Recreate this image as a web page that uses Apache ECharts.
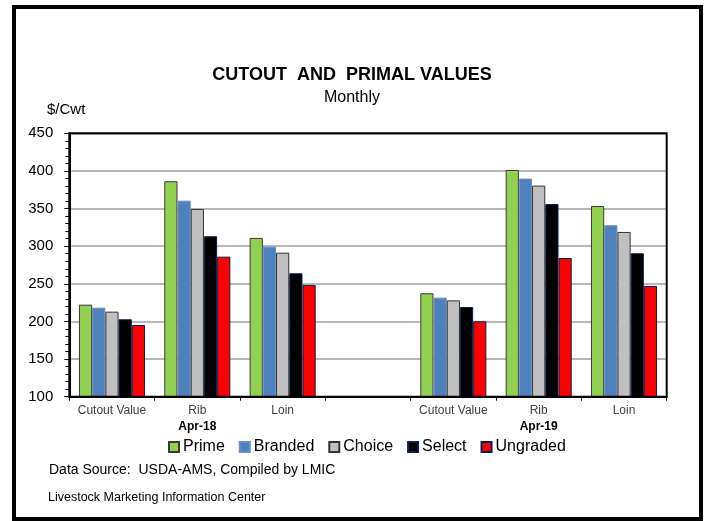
<!DOCTYPE html>
<html>
<head>
<meta charset="utf-8">
<script src="https://cdn.jsdelivr.net/npm/echarts@6/dist/echarts.min.js"></script>
<style>
html,body{margin:0;padding:0;background:#fff;}
#chart{width:704px;height:521px;}
</style>
</head>
<body>
<div id="chart"></div>
<script>
var categories = ['Cutout Value', 'Rib', 'Loin', '', 'Cutout Value', 'Rib', 'Loin'];
var periodLabels = ['', 'Apr-18', '', '', '', 'Apr-19', ''];
var prime    = [222.3, 386.3, 311.0, null, 237.4, 401.3, 353.4];
var branded  = [218.3, 360.5, 299.4, null, 231.6, 389.8, 327.8];
var choice   = [213.0, 349.5, 291.4, null, 228.0, 380.5, 318.9];
var select   = [202.9, 313.2, 264.0, null, 219.2, 356.0, 290.6];
var ungraded = [195.3, 286.1, 248.5, null, 200.2, 284.3, 247.1];
var yTicks = [100, 150, 200, 250, 300, 350, 400, 450];

var SANS = "'Liberation Sans', Arial, sans-serif";

function bar(name, data, color, border) {
  return {
    name: name, type: 'bar', data: data, xAxisIndex: 0,
    barGap: '0%', barCategoryGap: '22.6%',
    itemStyle: { color: color, borderColor: border, borderWidth: 1 }
  };
}

var chart = echarts.init(document.getElementById('chart'), null, { renderer: 'canvas' });
chart.setOption({
  animation: false,
  backgroundColor: '#ffffff',
  title: [
    { text: 'CUTOUT  AND  PRIMAL VALUES', left: 'center', top: 61,
      textStyle: { fontFamily: SANS, fontWeight: 'bold', fontSize: 18, color: '#000' } },
    { text: 'Monthly', left: 'center', top: 85,
      textStyle: { fontFamily: SANS, fontWeight: 'normal', fontSize: 16, color: '#000' } },
    { text: '$/Cwt', left: 42, top: 97,
      textStyle: { fontFamily: SANS, fontWeight: 'normal', fontSize: 15, color: '#000' } },
    { text: 'Data Source:  USDA-AMS, Compiled by LMIC', left: 44, top: 458,
      textStyle: { fontFamily: SANS, fontWeight: 'normal', fontSize: 14, color: '#000' } },
    { text: 'Livestock Marketing Information Center', left: 43, top: 486,
      textStyle: { fontFamily: SANS, fontWeight: 'normal', fontSize: 12.5, color: '#000' } }
  ],
  legend: {
    top: 434, left: 163,
    itemWidth: 10, itemHeight: 10, itemGap: 14,
    icon: 'rect',
    textStyle: { fontFamily: SANS, fontSize: 16, color: '#000', padding: [0, 0, 0, -1] },
    data: ['Prime', 'Branded', 'Choice', 'Select', 'Ungraded']
  },
  grid: { left: 69.3, right: 37.3, top: 133.3, bottom: 124.3, containLabel: false },
  xAxis: [
    {
      type: 'category', data: categories, position: 'bottom',
      axisLine: { show: true, lineStyle: { color: '#000', width: 2 } },
      axisTick: { show: true, alignWithLabel: false, length: 4, lineStyle: { color: '#000' } },
      axisLabel: { fontFamily: SANS, fontSize: 12, color: '#404040', margin: 8, interval: 0 },
      splitLine: { show: false }
    },
    {
      type: 'category', data: periodLabels, position: 'bottom', offset: 16,
      axisLine: { show: false }, axisTick: { show: false },
      axisLabel: { fontFamily: SANS, fontWeight: 'bold', fontSize: 12, color: '#000', interval: 0 },
      splitLine: { show: false }
    }
  ],
  yAxis: {
    type: 'value', min: 100, max: 450, interval: 50,
    axisLine: { show: true, lineStyle: { color: '#000', width: 2 } },
    axisTick: { show: true, length: 5, lineStyle: { color: '#000' } },
    minorTick: { show: true, splitNumber: 5, length: 4, lineStyle: { color: '#000' } },
    axisLabel: { fontFamily: SANS, fontSize: 15, color: '#000', margin: 16,
      formatter: function (v) { return yTicks.indexOf(v) >= 0 ? String(v) : ''; } },
    splitLine: { show: true, lineStyle: { color: '#a0a0a0', width: 1.5 } }
  },
  series: [
    bar('Prime', prime, '#92d050', '#3a3a3a'),
    bar('Branded', branded, '#4f81bd', '#6a8fc8'),
    bar('Choice', choice, '#c0c0c0', '#333333'),
    bar('Select', select, '#000000', '#0a1f4f'),
    bar('Ungraded', ungraded, '#ff0000', '#0a1f4f')
  ],
  graphic: [
    { type: 'rect', shape: { x: 69.3, y: 133.3, width: 597.4, height: 263.4 },
      style: { fill: 'none', stroke: '#000', lineWidth: 2 }, z: 100, silent: true },
    { type: 'rect', shape: { x: 14, y: 7, width: 687, height: 512 },
      style: { fill: 'none', stroke: '#000', lineWidth: 4 }, z: 100, silent: true }
  ]
});
</script>
</body>
</html>
